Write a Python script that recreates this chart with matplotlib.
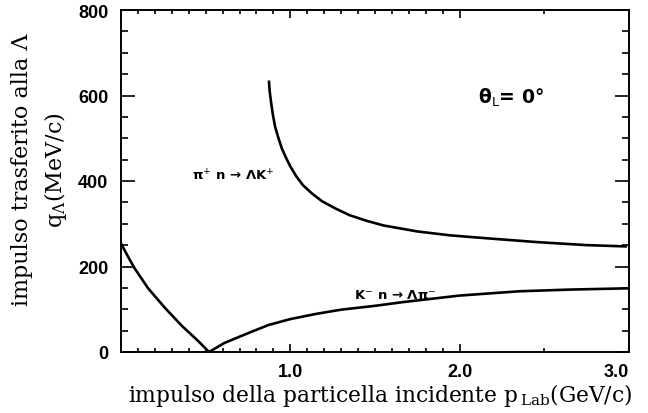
import matplotlib
matplotlib.use("Agg")
import matplotlib.pyplot as plt
from matplotlib.ticker import FixedLocator

# ---- data ----
# K- n -> Lambda pi-
k_x = [0.0, 0.04, 0.08, 0.16, 0.26, 0.36, 0.455, 0.52, 0.61, 0.75, 0.87, 1.0,
       1.15, 1.3, 1.5, 1.67, 2.0, 2.35, 2.65, 3.0]
k_y = [254, 224, 196, 149, 103, 61, 26, 0, 21, 44, 63, 77,
       89, 99, 108, 117, 132, 142, 146, 149]
# pi+ n -> Lambda K+
p_x = [0.874, 0.878, 0.886, 0.897, 0.91, 0.93, 0.95, 0.975, 1.0, 1.035, 1.075,
       1.13, 1.19, 1.27, 1.35, 1.45, 1.55, 1.75, 1.94, 2.16, 2.46, 2.75, 2.98]
p_y = [632, 610, 585, 555, 527, 500, 476, 454, 434, 411, 390,
       370, 352, 335, 320, 307, 296, 282, 273, 266, 257, 250, 247]

x_ticklabels = ["1.0", "2.0", "3.0"]
x_ticks = [1.0, 2.0, 3.0]
y_ticks = [0, 200, 400, 600, 800]
y_ticklabels = ["0", "200", "400", "600", "800"]

label_pi = r"π$^{\mathsf{+}}$ n → ΛK$^{\mathsf{+}}$"
label_k = r"K$^{\mathsf{-}}$ n → Λπ$^{\mathsf{-}}$"
label_theta = r"θ$_{\mathsf{L}}$= 0°"
xlabel = r"impulso della particella incidente p$_{\,\mathrm{Lab}}$(GeV/c)"
ylabel = "impulso trasferito alla Λ\n" + r"q$_{\Lambda}$(MeV/c)"

plt.rcParams['mathtext.fontset'] = 'dejavuserif'

fig = plt.figure(figsize=(6.48, 4.14), dpi=100)
ax = fig.add_axes([121/648, 1-353/414, (629-121)/648, (353-11)/414])

ax.plot(k_x, k_y, color='black', lw=1.9, solid_joinstyle='round')
ax.plot(p_x, p_y, color='black', lw=1.9, solid_joinstyle='round')

ax.set_xlim(0, 3.0)
ax.set_ylim(0, 800)

for s in ax.spines.values():
    s.set_linewidth(1.4)

# ticks
ax.xaxis.set_major_locator(FixedLocator(x_ticks))
ax.set_xticklabels(x_ticklabels)
minor_x = [0.1, 0.2, 0.3, 0.4, 0.5, 0.6, 0.7, 0.8, 0.9,
           1.1, 1.2, 1.3, 1.4, 1.5, 1.6, 1.7, 1.8, 1.9, 2.5]
ax.xaxis.set_minor_locator(FixedLocator(minor_x))
ax.yaxis.set_major_locator(FixedLocator(y_ticks))
ax.set_yticklabels(y_ticklabels)
ax.yaxis.set_minor_locator(FixedLocator([50, 100, 150, 250, 300, 350, 450, 500,
                                         550, 650, 700, 750]))
ax.tick_params(axis='both', which='both', direction='in', top=True, right=True,
               color='black', width=1.2)
ax.tick_params(axis='y', which='major', length=10, pad=9)
ax.tick_params(axis='y', which='minor', length=5)
ax.tick_params(axis='x', which='major', length=6, pad=8)
ax.tick_params(axis='x', which='minor', length=3)
for lab in ax.get_xticklabels() + ax.get_yticklabels():
    lab.set_fontfamily('Liberation Sans')
    lab.set_fontsize(13)
    lab.set_fontweight('bold')
ax.get_xticklabels()[-1].set_horizontalalignment('right')

fig.text(380/648, 1-396/414, xlabel, family='DejaVu Serif', fontsize=15.7,
         ha='center', va='center')
fig.text(40/648, 1-170/414, ylabel, family='DejaVu Serif', fontsize=16,
         rotation=90, ha='center', va='center', linespacing=1.45,
         multialignment='center')

ax.text(0.66, 415, label_pi, family='DejaVu Sans', fontweight='bold',
        fontsize=9.5, ha='center', va='center')
ax.text(1.62, 135, label_k, family='DejaVu Sans', fontweight='bold',
        fontsize=9.5, ha='center', va='center')
ax.text(2.30, 600, label_theta, family='DejaVu Sans', fontweight='bold',
        fontsize=13.5, ha='center', va='center')

fig.savefig("out.png", dpi=100)
